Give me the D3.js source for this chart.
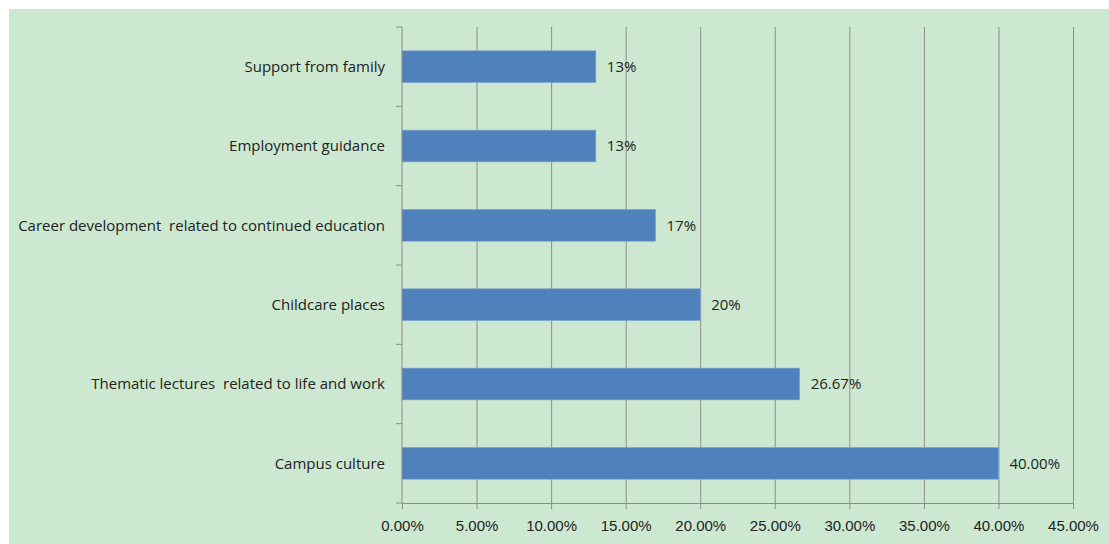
<!DOCTYPE html>
<html>
<head>
<meta charset="utf-8">
<script src="https://cdn.jsdelivr.net/npm/d3@7"></script>
<style>
  body { margin: 0; background: #fff; }
  #chart svg { display: block; font-family: "Open Sans", "Noto Sans", sans-serif; }
  .y-axis .domain, .x-axis .domain { stroke: #8c8c8c; }
  .y-axis line, .x-axis line { stroke: #8c8c8c; }
  .y-axis text, .x-axis text { fill: #222; font-size: 15px; }
  .grid line { stroke: #8c8c8c; }
  .grid .domain { display: none; }
  .bar-label { fill: #222; font-size: 15px; }
</style>
</head>
<body>
<div id="chart"></div>
<script>
/* horizontal bar chart, Excel-style */
const categories = [
    "Support from family",
    "Employment guidance",
    "Career development  related to continued education",
    "Childcare places",
    "Thematic lectures  related to life and work",
    "Campus culture"
];
const values = [0.13, 0.13, 0.17, 0.20, 0.2667, 0.40];
const valueLabels = ["13%", "13%", "17%", "20%", "26.67%", "40.00%"];
const xTicks = [0, 0.05, 0.10, 0.15, 0.20, 0.25, 0.30, 0.35, 0.40, 0.45];

const width = 1109,
    height = 544,
    margin = ({ top: 27, right: 36, bottom: 41, left: 402 });

const data = categories.map((c, i) => ({ cat: c, val: values[i], label: valueLabels[i] }));

const svg = d3.select("#chart")
    .append("svg")
    .attr("width", width)
    .attr("height", height);

// light green chart area
svg.append("rect")
    .attr("x", 9)
    .attr("y", 9)
    .attr("width", width - 9)
    .attr("height", height - 9)
    .attr("fill", "#cde8d0");

let x = d3.scaleLinear()
    .domain([0, 0.45])
    .range([margin.left, width - margin.right]);

let y = d3.scaleBand()
    .domain(categories)
    .range([margin.top, height - margin.bottom])
    .paddingInner(0.6)
    .paddingOuter(0.3);

// vertical gridlines
svg.append("g")
    .attr("class", "grid")
    .attr("transform", `translate(0,${margin.top})`)
    .call(d3.axisBottom(x).tickValues(xTicks.slice(1)).tickSize(height - margin.bottom - margin.top).tickFormat(""));

svg.selectAll("rect.bar")
    .data(data)
    .join("rect")
    .attr("class", "bar")
    .attr("x", x(0))
    .attr("y", d => y(d.cat))
    .attr("width", d => x(d.val) - x(0))
    .attr("height", y.bandwidth())
    .attr("fill", "#4f81bd")
    .attr("stroke", "#7ea3cf")
    .attr("stroke-width", 0.6);

svg.selectAll("text.bar-label")
    .data(data)
    .join("text")
    .attr("class", "bar-label")
    .attr("x", d => x(d.val) + 11)
    .attr("y", d => y(d.cat) + y.bandwidth() / 2)
    .attr("dy", "0.35em")
    .text(d => d.label);

// y axis with ticks between categories
const yAxis = svg.append("g")
    .attr("class", "y-axis")
    .attr("transform", `translate(${margin.left},0)`);

yAxis.append("line")
    .attr("x1", 0).attr("x2", 0)
    .attr("y1", margin.top).attr("y2", height - margin.bottom)
    .attr("stroke", "#8c8c8c");

const step = y.step();
yAxis.selectAll("line.tk")
    .data(d3.range(categories.length + 1))
    .join("line")
    .attr("class", "tk")
    .attr("x1", -6).attr("x2", 0)
    .attr("y1", i => margin.top + i * step)
    .attr("y2", i => margin.top + i * step)
    .attr("stroke", "#8c8c8c");

yAxis.selectAll("text")
    .data(categories)
    .join("text")
    .attr("x", -17)
    .attr("y", d => y(d) + y.bandwidth() / 2)
    .attr("dy", "0.35em")
    .attr("text-anchor", "end")
    .style("white-space", "pre")
    .attr("xml:space", "preserve")
    .text(d => d);

svg.append("g")
    .attr("class", "x-axis")
    .attr("transform", `translate(0,${height - margin.bottom})`)
    .call(d3.axisBottom(x)
        .tickValues(xTicks)
        .tickFormat(d3.format(".2%"))
        .tickSizeOuter(0)
        .tickSize(6)
        .tickPadding(11));
</script>
</body>
</html>
